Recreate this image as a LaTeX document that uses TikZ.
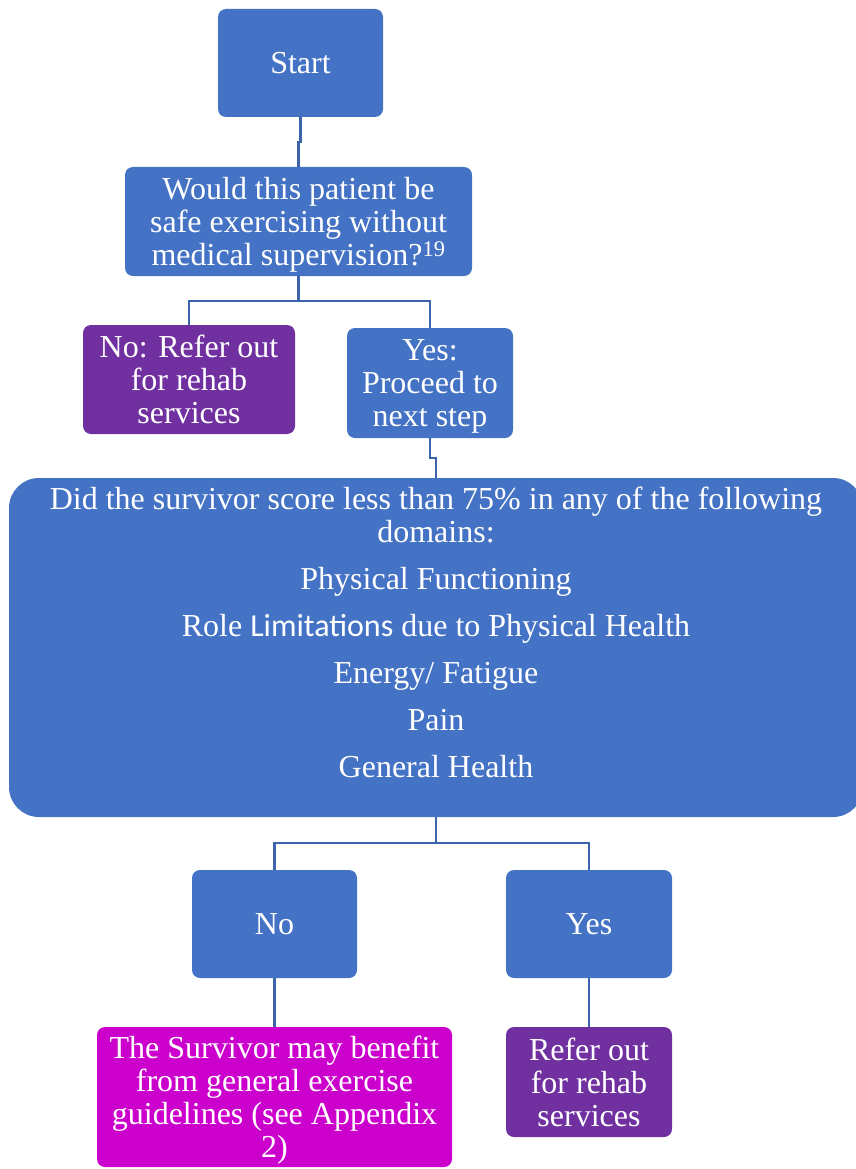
\documentclass[tikz,border=0pt]{standalone}
\usepackage{fontspec}
\setmainfont{Liberation Serif}
\newfontfamily\calibri{Carlito}
\definecolor{boxblue}{HTML}{4472C4}
\definecolor{boxpurple}{HTML}{7030A0}
\definecolor{boxmagenta}{HTML}{CC00CC}
\definecolor{linkblue}{HTML}{3B64AD}
\tikzset{
  flowbox/.style={rectangle, rounded corners=8pt, fill=boxblue, draw=none, text=white,
    align=center, inner sep=0pt, text depth=0pt, font=\fontsize{32}{33}\selectfont},
  purplebox/.style={flowbox, fill=boxpurple},
  magentabox/.style={flowbox, fill=boxmagenta},
  link/.style={draw=linkblue, line width=2.2pt}
}
\begin{document}
\begin{tikzpicture}[x=1pt,y=-1pt]
\useasboundingbox (0,0) rectangle (856,1169);
\node[flowbox, minimum width=165pt, minimum height=108pt] (start) at (300.5,63) {Start};
\node[flowbox, minimum width=347pt, minimum height=109pt] (q1) at (298.5,221.5)
  {Would this patient be\\ safe exercising without\\ medical supervision?\textsuperscript{19}};
\node[purplebox, minimum width=212pt, minimum height=109pt] (no1) at (189,379.5)
  {No: Refer out\\ for rehab\\ services};
\node[flowbox, minimum width=166pt, minimum height=110pt] (yes1) at (430,383)
  {Yes:\\ Proceed to\\ next step};
\node[flowbox, rounded corners=30pt, minimum width=854pt, minimum height=339pt] (big) at (436,647.5) {};
\node[anchor=north, text=white, align=center, inner sep=0pt, font=\fontsize{32}{33}\selectfont] (bigtext) at (436,487)
  {Did the survivor score less than 75\% in any of the following\\ domains:\\[14pt]
   Physical Functioning\\[14pt]
   Role {\calibri Limitations} due to Physical Health\\[14pt]
   Energy/ Fatigue\\[14pt]
   Pain\\[14pt]
   General Health};
\node[flowbox, minimum width=165pt, minimum height=108pt] (no2) at (274.5,924) {No};
\node[flowbox, minimum width=166pt, minimum height=108pt] (yes2) at (589,924) {Yes};
\node[magentabox, minimum width=355pt, minimum height=140pt] (gen) at (274.5,1097)
  {The Survivor may benefit\\ from general exercise\\ guidelines (see Appendix\\ 2)};
\node[purplebox, minimum width=166pt, minimum height=110pt] (refer) at (589,1082)
  {Refer out\\ for rehab\\ services};
\draw[link] (start.south) -- ++(0,25) -| (q1.north);
\draw[link] (q1.south) -- ++(0,25) -| (no1.north);
\draw[link] (q1.south) -- ++(0,25) -| (yes1.north);
\draw[link] (yes1.south) -- ++(0,20) -| (big.north);
\draw[link] (big.south) -- ++(0,26) -| (no2.north);
\draw[link] (big.south) -- ++(0,26) -| (yes2.north);
\draw[link] (no2.south) -- (gen.north);
\draw[link] (yes2.south) -- (refer.north);
\end{tikzpicture}
\end{document}
